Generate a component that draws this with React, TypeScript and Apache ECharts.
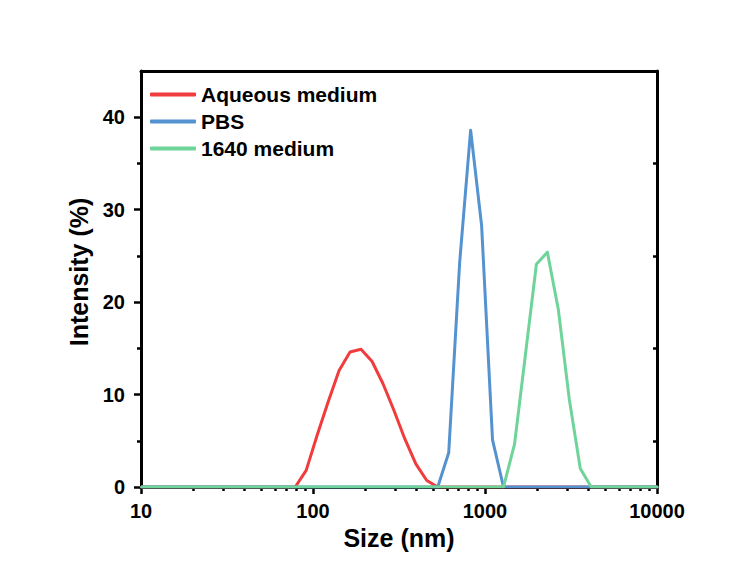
import React, { useEffect, useRef } from "react";
import * as echarts from "echarts";

// Particle size bins (nm), log-spaced DLS bins
const sizes = [
  10.1, 11.7, 13.54, 15.69, 18.17, 21.04, 24.36, 28.21, 32.67, 37.84,
  43.82, 50.75, 58.77, 68.06, 78.82, 91.28, 105.7, 122.4, 141.8, 164.2,
  190.1, 220.2, 255.0, 295.3, 342.0, 396.1, 458.7, 531.2, 615.1, 712.4,
  825.0, 955.4, 1106, 1281, 1484, 1718, 1990, 2305, 2669, 3091,
  3580, 4145, 4801, 5560, 6439, 7456, 8635, 10000,
];

const aqueous = [
  0, 0, 0, 0, 0, 0, 0, 0, 0, 0,
  0, 0, 0, 0, 0, 1.8, 5.6, 9.2, 12.6, 14.6,
  14.9, 13.6, 11.2, 8.3, 5.2, 2.5, 0.7, 0, 0, 0,
  0, 0, 0, 0, 0, 0, 0, 0, 0, 0,
  0, 0, 0, 0, 0, 0, 0, 0,
];

const pbs = [
  0, 0, 0, 0, 0, 0, 0, 0, 0, 0,
  0, 0, 0, 0, 0, 0, 0, 0, 0, 0,
  0, 0, 0, 0, 0, 0, 0, 0, 3.7, 24.3,
  38.6, 28.3, 5.1, 0, 0, 0, 0, 0, 0, 0,
  0, 0, 0, 0, 0, 0, 0, 0,
];

const rpmi = [
  0, 0, 0, 0, 0, 0, 0, 0, 0, 0,
  0, 0, 0, 0, 0, 0, 0, 0, 0, 0,
  0, 0, 0, 0, 0, 0, 0, 0, 0, 0,
  0, 0, 0, 0, 4.6, 14.3, 24.1, 25.4, 19.2, 9.5,
  2.0, 0, 0, 0, 0, 0, 0, 0,
];

const seriesNames = ["Aqueous medium", "PBS", "1640 medium"];
const seriesColors = ["#f03c3c", "#5592d0", "#6fd49a"];

const xMajorTicks = [10, 100, 1000, 10000];
const xMinorTicks = [
  20, 30, 40, 50, 60, 70, 80, 90,
  200, 300, 400, 500, 600, 700, 800, 900,
  2000, 3000, 4000, 5000, 6000, 7000, 8000, 9000,
];
const yMajorTicks = [0, 10, 20, 30, 40];
const yMinorTicks = [5, 15, 25, 35];

const FONT = "'Liberation Sans', Arial, sans-serif";

export default function App() {
  const ref = useRef<HTMLDivElement>(null);

  useEffect(() => {
    if (!ref.current) return;
    const chart = echarts.init(ref.current, undefined, { renderer: "svg" });
    const allValues = [aqueous, pbs, rpmi];
    const axisLine = { show: true, onZero: false, lineStyle: { color: "#000", width: 3 } };

    chart.setOption({
      animation: false,
      backgroundColor: "#fff",
      textStyle: { fontFamily: FONT },
      grid: { left: 141, right: 96, top: 71, bottom: 87 },
      legend: {
        orient: "vertical",
        left: 150,
        top: 81,
        padding: 0,
        itemWidth: 46,
        itemHeight: 4,
        itemGap: 0,
        icon: "roundRect",
        textStyle: {
          fontFamily: FONT,
          fontWeight: "bold",
          fontSize: 21,
          color: "#000",
          lineHeight: 27,
        },
        data: seriesNames,
      },
      xAxis: [
        {
          type: "log",
          logBase: 10,
          min: 10,
          max: 10000,
          position: "bottom",
          name: "Size (nm)",
          nameLocation: "middle",
          nameGap: 33,
          nameTextStyle: { fontFamily: FONT, fontWeight: "bold", fontSize: 25, color: "#000" },
          axisLine,
          axisTick: { show: true, length: 7, lineStyle: { color: "#000", width: 2.5 }, customValues: xMajorTicks },
          axisLabel: {
            show: true,
            customValues: xMajorTicks,
            formatter: (v: number) => String(Math.round(v)),
            margin: 14,
            fontFamily: FONT,
            fontWeight: "bold",
            fontSize: 20,
            color: "#000",
          },
          splitLine: { show: false },
        },
        {
          type: "log",
          logBase: 10,
          min: 10,
          max: 10000,
          position: "bottom",
          axisLine: { show: false, onZero: false },
          axisTick: { show: true, length: 4, lineStyle: { color: "#000", width: 2.5 }, customValues: xMinorTicks },
          axisLabel: { show: false },
          splitLine: { show: false },
        },
        {
          type: "log",
          logBase: 10,
          min: 10,
          max: 10000,
          position: "top",
          axisLine,
          axisTick: { show: false },
          axisLabel: { show: false },
          splitLine: { show: false },
        },
      ],
      yAxis: [
        {
          type: "value",
          min: 0,
          max: 45,
          position: "left",
          name: "Intensity (%)",
          nameLocation: "middle",
          nameGap: 43,
          nameTextStyle: {
            fontFamily: FONT,
            fontWeight: "bold",
            fontSize: 25,
            color: "#000",
            padding: [0, 0, 0, 14],
          },
          axisLine,
          axisTick: { show: true, length: 7, lineStyle: { color: "#000", width: 2.5 }, customValues: yMajorTicks },
          axisLabel: {
            show: true,
            customValues: yMajorTicks,
            margin: 16,
            fontFamily: FONT,
            fontWeight: "bold",
            fontSize: 20,
            color: "#000",
          },
          splitLine: { show: false },
        },
        {
          type: "value",
          min: 0,
          max: 45,
          position: "left",
          axisLine: { show: false, onZero: false },
          axisTick: { show: true, length: 4, lineStyle: { color: "#000", width: 2.5 }, customValues: yMinorTicks },
          axisLabel: { show: false },
          splitLine: { show: false },
        },
        {
          type: "value",
          min: 0,
          max: 45,
          position: "right",
          axisLine,
          axisTick: {
            show: true,
            inside: true,
            length: 4,
            lineStyle: { color: "#000", width: 2.5 },
            customValues: yMinorTicks,
          },
          axisLabel: { show: false },
          splitLine: { show: false },
        },
      ],
      series: seriesNames.map((name, s) => ({
        name,
        type: "line",
        xAxisIndex: 0,
        yAxisIndex: 0,
        showSymbol: false,
        symbol: "none",
        color: seriesColors[s],
        lineStyle: { width: 3, color: seriesColors[s], cap: "round", join: "round" },
        z: 2 + s,
        data: sizes.map((x, i) => [x, allValues[s][i]]),
      })),
    });

    return () => chart.dispose();
  }, []);

  return (
    <div
      ref={ref}
      style={{ position: "fixed", left: 0, top: 0, width: 753, height: 574 }}
    />
  );
}
